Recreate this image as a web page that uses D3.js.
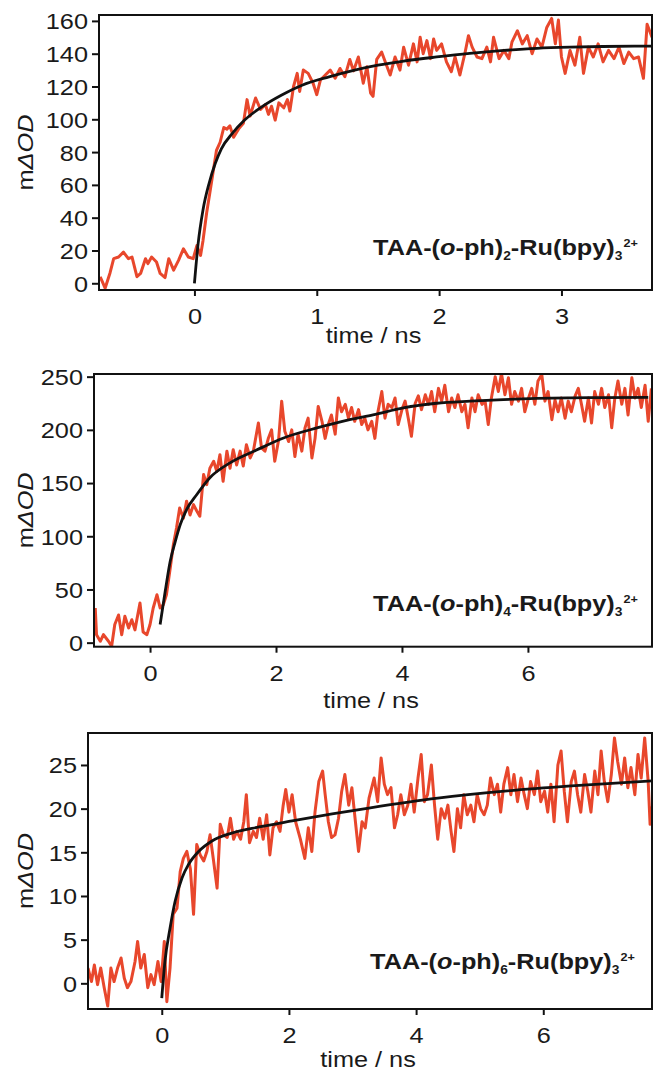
<!DOCTYPE html>
<html>
<head>
<meta charset="utf-8">
<script src="https://cdn.jsdelivr.net/npm/d3@7"></script>
<style>
  body { margin: 0; background: #fff; }
  svg { display: block; font-family: "Liberation Sans", Arial, sans-serif; }
</style>
</head>
<body>
<svg id="chart" width="653" height="1073"></svg>
<script>
// transient traces [time / ns, mΔOD]
const trace1 = [
  [-0.77,4],[-0.73,-3],[-0.69,6.3],[-0.66,15],[-0.62,16],[-0.58,19],[-0.54,15],[-0.51,16],[-0.47,4],[-0.44,6],
  [-0.40,15],[-0.38,12],[-0.35,16],[-0.31,13],[-0.28,6],[-0.24,3.5],[-0.21,15],[-0.17,8],[-0.13,14],[-0.09,21],
  [-0.05,16],[-0.01,15],[0.02,23],[0.05,17],[0.07,26],[0.10,43],[0.13,57],[0.155,69],[0.18,81],[0.21,86],
  [0.24,95],[0.265,94],[0.29,96],[0.32,89],[0.36,94],[0.40,97.5],[0.43,112],[0.455,102],[0.50,113],[0.54,106],
  [0.58,109],[0.605,103],[0.63,108],[0.66,99.5],[0.69,110],[0.73,107],[0.76,112],[0.78,105],[0.81,120],[0.84,128],
  [0.86,117],[0.89,130],[0.93,128],[0.97,122],[1.00,115],[1.03,124],[1.07,127],[1.11,130],[1.15,125],[1.19,131],
  [1.23,126],[1.27,136.5],[1.30,129.5],[1.34,138],[1.38,122],[1.41,132],[1.44,116],[1.46,114],[1.49,136.5],[1.53,141],
  [1.57,133],[1.60,127],[1.64,138],[1.68,130],[1.71,144],[1.75,133],[1.79,146],[1.82,135],[1.845,150],[1.87,140],
  [1.90,148],[1.93,137],[1.955,149],[1.98,142],[2.02,146],[2.06,135],[2.10,129],[2.13,138],[2.17,127],[2.21,140],
  [2.24,151],[2.27,144],[2.31,138],[2.35,137],[2.39,144],[2.42,135],[2.445,150],[2.49,137],[2.53,142],[2.57,137],
  [2.595,147],[2.64,154],[2.68,146],[2.72,151],[2.76,140],[2.80,149],[2.84,144],[2.88,156],[2.92,161.5],[2.95,146],
  [2.975,160.5],[3.00,138],[3.03,128],[3.07,142],[3.11,133],[3.15,150],[3.18,128],[3.22,144],[3.26,138],[3.30,146],
  [3.34,135],[3.385,142],[3.43,137],[3.47,144],[3.51,134],[3.55,141],[3.59,137],[3.63,138],[3.67,125],[3.70,158],
  [3.74,150]
]
const fit1 = [
  [0,0],[0.03,24],[0.07,44.7],[0.12,61],[0.17,73],[0.22,82],[0.31,91.4],[0.41,99.5],[0.55,107.6],[0.71,114.7],
  [0.88,120.8],[1.10,125.9],[1.31,130],[1.50,133],[1.71,135.5],[1.98,138],[2.25,140.2],[2.53,142],[2.80,143.3],
  [3.07,144],[3.34,144.4],[3.74,144.6]
]

const trace2 = [
  [-0.87,32.6],[-0.85,7.5],[-0.79,1.3],[-0.74,7.5],[-0.66,1.3],[-0.61,-3.4],[-0.56,17],[-0.50,26],[-0.45,7.5],[-0.40,24.8],
  [-0.34,13.8],[-0.29,21.6],[-0.24,12],[-0.16,37.3],[-0.11,10],[-0.05,7.5],[0,17],[0.05,32.6],[0.11,45],[0.16,32.6],
  [0.21,35.7],[0.26,45],[0.32,70],[0.37,92],[0.42,107.8],[0.47,126.6],[0.53,117],[0.58,133],[0.635,120],[0.69,129.7],
  [0.74,124],[0.79,118.8],[0.85,158],[0.90,148.5],[0.95,164],[1.01,170.5],[1.06,161],[1.11,176.7],[1.16,151.7],[1.22,180],
  [1.27,164],[1.32,181.4],[1.375,167],[1.43,180],[1.48,166],[1.53,186],[1.59,173.6],[1.64,180],[1.72,206.5],[1.77,183],
  [1.825,180],[1.88,192.4],[1.93,200],[1.98,170.5],[2.04,190],[2.09,227],[2.14,198.7],[2.20,189],[2.25,200],[2.30,175],
  [2.35,196],[2.41,180],[2.46,201.7],[2.51,211],[2.57,173.6],[2.62,192],[2.67,222],[2.73,208],[2.78,192],[2.83,205],
  [2.88,214],[2.94,196],[2.99,230],[3.04,217],[3.10,224],[3.15,211],[3.20,221],[3.25,208],[3.31,219],[3.36,205],
  [3.41,211],[3.46,200],[3.52,208],[3.57,192],[3.62,217.5],[3.68,236],[3.73,211],[3.78,224],[3.84,221],[3.89,230],
  [3.94,205],[4.00,219],[4.05,227],[4.10,211],[4.15,194],[4.21,225],[4.26,232],[4.31,219],[4.37,233],[4.42,224],
  [4.47,236],[4.52,217],[4.58,239],[4.63,227],[4.68,242],[4.74,217],[4.79,230],[4.84,221],[4.89,233],[4.95,217],
  [5.00,224],[5.05,202],[5.11,230],[5.16,217],[5.21,233],[5.27,224],[5.32,227],[5.37,205],[5.42,230],[5.48,250],
  [5.53,236],[5.58,253],[5.635,233],[5.69,249],[5.74,224],[5.79,236],[5.85,227],[5.90,239],[5.95,217],[6.01,230],
  [6.06,239],[6.11,224],[6.16,246],[6.22,252],[6.27,227],[6.32,236],[6.38,209.6],[6.43,228],[6.48,217],[6.53,230],
  [6.59,211],[6.64,227],[6.69,217],[6.75,232],[6.80,239],[6.85,224],[6.90,208],[6.96,230],[7.01,206.5],[7.06,236],
  [7.12,224],[7.17,239],[7.22,221],[7.28,233],[7.33,202],[7.38,230],[7.43,246],[7.49,224],[7.54,239],[7.59,214],
  [7.65,249],[7.70,230],[7.75,239],[7.80,221],[7.86,242],[7.91,208],[7.96,239]
]
const fit2 = [
  [0.16,17],[0.24,48],[0.32,76.5],[0.40,95],[0.48,111],[0.58,125],[0.74,139],[0.95,155],[1.27,169],[1.69,181],
  [2.12,192.4],[2.65,201.8],[3.17,209.6],[3.54,214],[4.02,220.6],[4.55,225],[5.08,227],[5.61,228.5],[6.14,229.5],
  [6.67,230],[7.19,230.3],[7.91,230.5]
]

const trace3 = [
  [-1.16,1.75],[-1.105,0.2],[-1.06,2.1],[-1.01,-0.15],[-0.96,1.75],[-0.905,-0.5],[-0.85,-2.6],[-0.80,1.75],[-0.75,0.2],[-0.695,1.75],
  [-0.64,2.9],[-0.59,0.6],[-0.54,-0.5],[-0.485,0.2],[-0.42,2.5],[-0.38,4.8],[-0.33,1.75],[-0.275,3.3],[-0.22,-0.5],[-0.17,1],
  [-0.12,-0.15],[-0.06,2.5],[-0.01,0.2],[0.04,4.8],[0.08,-2.1],[0.13,1.75],[0.18,7.9],[0.24,8.6],[0.29,12.8],[0.34,14.3],
  [0.395,15.1],[0.45,13.1],[0.50,7.9],[0.55,15.9],[0.605,14.7],[0.66,14],[0.71,15.1],[0.76,17],[0.815,14],[0.87,10.9],
  [0.92,18.2],[0.97,17],[1.03,16.7],[1.08,18.9],[1.13,16.5],[1.18,17.4],[1.24,16.5],[1.29,18.5],[1.33,21.6],[1.38,16.1],
  [1.44,17.4],[1.49,16.7],[1.54,18.9],[1.595,16.5],[1.65,19.3],[1.70,14.7],[1.75,17.8],[1.805,18.5],[1.86,17.4],[1.91,20.4],
  [1.95,22.2],[2.00,19.6],[2.05,21.6],[2.105,18.5],[2.18,16.5],[2.25,14.3],[2.305,17.8],[2.36,15.1],[2.41,19.6],[2.47,23.1],
  [2.53,24.3],[2.57,21.6],[2.62,18.5],[2.67,16.7],[2.725,17],[2.78,18.9],[2.83,22],[2.88,23.9],[2.94,20.4],[2.99,22.4],
  [3.04,18.9],[3.095,15.1],[3.15,18.5],[3.20,17.8],[3.26,21.2],[3.34,23.5],[3.395,20.8],[3.45,25.8],[3.50,22.8],[3.55,21.6],
  [3.605,22.4],[3.66,17.8],[3.71,19.3],[3.76,21.6],[3.815,19.3],[3.87,20.4],[3.92,22.8],[3.97,19.6],[4.03,23.5],[4.08,26.2],
  [4.13,20.8],[4.18,21.6],[4.24,25],[4.29,20.4],[4.34,16.5],[4.395,20],[4.45,18.9],[4.50,20.4],[4.55,17.4],[4.595,15.1],
  [4.65,20],[4.70,17.8],[4.75,21.6],[4.805,19.3],[4.86,20.4],[4.91,18.5],[4.96,21.6],[5.015,20],[5.07,19.3],[5.12,20.4],
  [5.17,23.5],[5.23,21.6],[5.28,22.8],[5.33,19.6],[5.38,22.8],[5.44,24.7],[5.49,21.6],[5.54,23.9],[5.595,20.8],[5.65,23.5],
  [5.70,21.6],[5.75,20],[5.80,23.1],[5.86,21.6],[5.91,24.3],[5.96,20.8],[6.02,22],[6.07,19.6],[6.12,22.8],[6.17,18.5],
  [6.23,25],[6.28,26.6],[6.33,22],[6.38,18.5],[6.44,23.1],[6.49,24.3],[6.54,21.6],[6.59,19.6],[6.65,23.9],[6.70,22],
  [6.75,19.6],[6.81,24.3],[6.86,21.6],[6.91,26.6],[6.96,23.1],[7.015,20.8],[7.07,23.9],[7.12,28.1],[7.17,25.4],[7.23,22.8],
  [7.28,25.8],[7.33,22.4],[7.38,24.7],[7.44,21.6],[7.49,26.2],[7.54,23.5],[7.595,28.1],[7.65,23.1],[7.68,18.2],[7.74,21.6]
]
const fit3 = [
  [0,-1.7],[0.05,2.5],[0.13,6.3],[0.21,9.4],[0.32,12.1],[0.42,13.6],[0.58,15.1],[0.79,16.3],[1.10,17.2],[1.53,17.9],
  [2.05,18.6],[2.68,19.4],[3.28,20.1],[4.34,21.2],[5.39,22.0],[6.44,22.6],[7.74,23.2]
]

// axis extents and ticks
const xDomains = [[-0.78, 3.74], [-0.89, 7.97], [-1.16, 7.71]]
const yDomains = [[-4.1, 163.6], [-3.8, 252.5], [-2.94, 28.66]]
const xTicks = [[0, 1, 2, 3], [0, 2, 4, 6], [0, 2, 4, 6]]
const yTicks = [[0, 20, 40, 60, 80, 100, 120, 140, 160], [0, 50, 100, 150, 200, 250], [0, 5, 10, 15, 20, 25]]
const phCounts = ['2', '4', '6']

// layout of the three stacked frames
const frames = [
  { left: 99, top: 15, bottom: 290, labelX: 638, labelY: 255, titleY: 343 },
  { left: 94, top: 374, bottom: 646.7, labelX: 638, labelY: 611, titleY: 708 },
  { left: 88, top: 733, bottom: 1009, labelX: 635, labelY: 969, titleY: 1067 }
]
const RIGHT = 652
const WIDE = 'scale(1.15,1)'
const RED = '#e8472c'

const svg = d3.select('#chart')

frames.forEach((f, i) => {
  const x = d3.scaleLinear().domain(xDomains[i]).range([f.left, RIGHT])
  const y = d3.scaleLinear().domain(yDomains[i]).range([f.bottom, f.top])
  const g = svg.append('g')

  g.append('clipPath').attr('id', `clip${i}`)
    .append('rect')
    .attr('x', f.left).attr('y', f.top)
    .attr('width', RIGHT - f.left).attr('height', f.bottom - f.top)

  const line = d3.line().x(d => x(d[0])).y(d => y(d[1]))
  const smooth = d3.line().x(d => x(d[0])).y(d => y(d[1])).curve(d3.curveMonotoneX)

  g.append('path')
    .datum([trace1, trace2, trace3][i])
    .attr('clip-path', `url(#clip${i})`)
    .attr('d', line)
    .attr('fill', 'none')
    .attr('stroke', RED)
    .attr('stroke-width', 3)
    .attr('stroke-linejoin', 'round')

  g.append('path')
    .datum([fit1, fit2, fit3][i])
    .attr('clip-path', `url(#clip${i})`)
    .attr('d', smooth)
    .attr('fill', 'none')
    .attr('stroke', '#111')
    .attr('stroke-width', 2.8)

  g.append('rect')
    .attr('x', f.left).attr('y', f.top)
    .attr('width', RIGHT - f.left).attr('height', f.bottom - f.top)
    .attr('fill', 'none')
    .attr('stroke', '#111')
    .attr('stroke-width', 2)

  const xAxis = g.append('g')
    .attr('transform', `translate(0,${f.bottom})`)
    .call(d3.axisBottom(x).tickValues(xTicks[i]).tickSize(6).tickFormat(d3.format('d')))
  const yAxis = g.append('g')
    .attr('transform', `translate(${f.left},0)`)
    .call(d3.axisLeft(y).tickValues(yTicks[i]).tickSize(7).tickFormat(d3.format('d')))

  ;[xAxis, yAxis].forEach(a => {
    a.select('.domain').remove()
    a.attr('font-size', 22).attr('font-family', null)
    a.selectAll('.tick line').attr('stroke', '#111').attr('stroke-width', 2)
    a.selectAll('.tick text').attr('fill', '#1a1a1a')
  })
  xAxis.selectAll('.tick text')
    .attr('y', null).attr('dy', null)
    .attr('transform', `translate(0,34) ${WIDE}`)
  yAxis.selectAll('.tick text')
    .attr('x', null).attr('dy', '0.36em')
    .attr('transform', `translate(-11,0) ${WIDE}`)

  // axis titles
  g.append('text')
    .attr('transform', `translate(${(f.left + RIGHT) / 2 - 2},${f.titleY}) ${WIDE}`)
    .attr('text-anchor', 'middle')
    .attr('font-size', 22)
    .attr('fill', '#1a1a1a')
    .text('time / ns')

  const yt = g.append('text')
    .attr('transform', `translate(33,${(f.top + f.bottom) / 2}) rotate(-90) ${WIDE}`)
    .attr('text-anchor', 'middle')
    .attr('font-size', 22)
    .attr('fill', '#1a1a1a')
  yt.append('tspan').text('m')
  yt.append('tspan').attr('font-style', 'italic').text('ΔOD')

  // compound label
  const lab = g.append('text')
    .attr('transform', `translate(${f.labelX},${f.labelY}) ${WIDE}`)
    .attr('text-anchor', 'end')
    .attr('font-size', 22)
    .attr('font-weight', 'bold')
    .attr('fill', '#1a1a1a')
  lab.append('tspan').text('TAA-(')
  lab.append('tspan').attr('font-style', 'italic').text('o')
  lab.append('tspan').text('-ph)')
  lab.append('tspan').attr('font-size', 12).attr('dy', 5).text(phCounts[i])
  lab.append('tspan').attr('dy', -5).text('-Ru(bpy)')
  lab.append('tspan').attr('font-size', 12).attr('dy', 5).text('3')
  lab.append('tspan').attr('font-size', 11).attr('dy', -13).attr('dx', 1).text('2+')
})
</script>
</body>
</html>
